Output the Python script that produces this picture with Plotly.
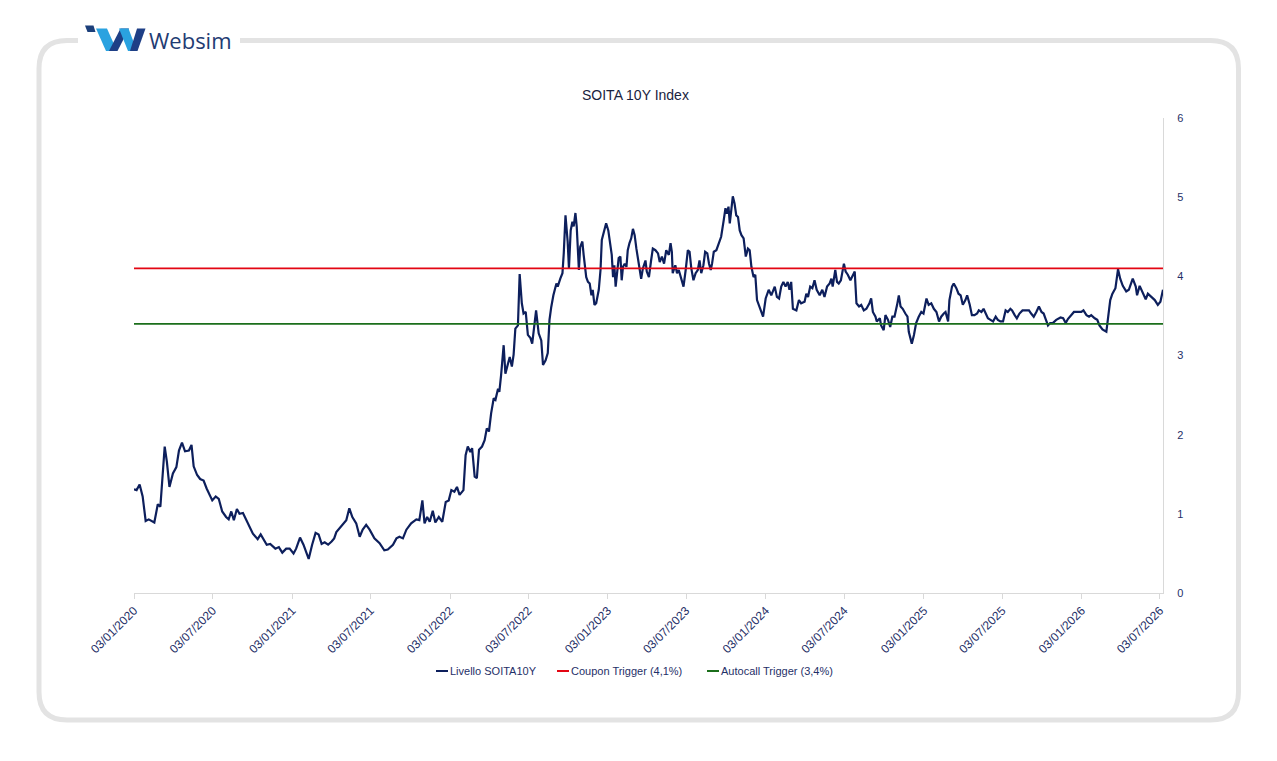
import plotly.graph_objects as go
import pandas as pd

# ---------------- data ----------------
START_DATE = "2020-01-03"

day_offsets = [
    0, 6, 13, 20, 27, 34, 47, 55, 61, 71,
    76, 82, 90, 98, 104, 111, 118, 127, 133, 138,
    146, 153, 161, 168, 181, 189, 196, 204, 213, 219,
    225, 231, 238, 244, 252, 263, 275, 286, 293, 307,
    315, 327, 335, 343, 352, 360, 369, 375, 384, 392,
    404, 412, 420, 427, 434, 441, 449, 457, 463, 468,
    483, 491, 498, 505, 514, 522, 529, 537, 545, 556,
    568, 579, 587, 599, 607, 614, 622, 630, 641, 653,
    660, 667, 672, 678, 684, 691, 697, 705, 713, 721,
    728, 734, 741, 747, 753,
    762, 767, 772, 778, 782, 788, 793, 798, 805, 811,
    816, 821, 826, 832, 836, 842, 845, 849, 853, 855,
    859, 865, 869, 874, 878, 882, 888, 892, 897, 901,
    906, 911, 917, 921, 925, 930, 936, 942, 946, 952,
    957, 961, 965, 970, 977, 980, 986, 991, 994, 998,
    1003, 1006, 1010, 1014, 1017, 1021, 1024, 1029, 1032, 1037,
    1040, 1046, 1050, 1054, 1058, 1061, 1065, 1069, 1075, 1079,
    1082, 1087, 1092, 1097, 1102, 1105, 1108, 1111, 1114, 1118,
    1121, 1125, 1128, 1131, 1135, 1139, 1142, 1146, 1150, 1154,
    1158, 1162, 1166, 1169, 1173, 1177, 1183, 1186, 1191, 1196,
    1200, 1206, 1212, 1216, 1221, 1226, 1231, 1237, 1241, 1244,
    1246, 1252, 1256, 1260, 1266, 1271, 1276, 1281, 1285, 1289,
    1294, 1299, 1304, 1308, 1312, 1317, 1321, 1326, 1330, 1334,
    1337, 1341, 1347, 1353, 1358, 1364, 1368, 1371, 1375, 1378,
    1381, 1385, 1389, 1393, 1397, 1401, 1405, 1410, 1415, 1420,
    1424, 1428, 1433, 1437, 1441, 1445, 1451, 1455,
    1461, 1468, 1474, 1482, 1487, 1492, 1497, 1502, 1507, 1512,
    1516, 1520, 1524, 1532, 1538, 1543, 1551, 1555, 1559, 1564,
    1569, 1574, 1579, 1586, 1592, 1597, 1603, 1609, 1613, 1616,
    1622, 1626, 1630, 1635, 1638, 1642, 1646, 1651, 1657, 1661,
    1667, 1671, 1677, 1682, 1688, 1694, 1701, 1705, 1709, 1715,
    1718, 1725, 1728, 1734, 1738, 1744, 1749, 1754, 1759, 1765,
    1769, 1773, 1778, 1784, 1789, 1792, 1799, 1804, 1809, 1815,
    1821, 1826, 1833, 1838, 1844, 1850, 1856, 1862, 1867, 1873,
    1877, 1883, 1886, 1892, 1896, 1902, 1907, 1912, 1917, 1923,
    1927, 1933, 1938, 1944, 1950, 1954, 1960, 1965, 1970, 1975,
    1981, 1987, 1993, 1998, 2004, 2010, 2016, 2021, 2027, 2031,
    2037, 2042, 2048, 2055, 2062, 2070, 2075, 2081, 2087, 2093,
    2099, 2104, 2108, 2114, 2119, 2125, 2133, 2143, 2149, 2155,
    2160, 2168, 2174, 2183, 2191, 2196, 2203, 2209, 2214, 2222,
    2228, 2233, 2240, 2249, 2253, 2258, 2263, 2270, 2276, 2281,
    2287, 2295, 2301, 2307, 2310, 2317, 2320, 2326, 2332, 2340,
    2345, 2353, 2361, 2368, 2374, 2380,
]

soita_values = [
    1.31, 1.30, 1.37, 1.22, 0.91, 0.93, 0.89, 1.12, 1.09, 1.85,
    1.66, 1.34, 1.51, 1.59, 1.80, 1.90, 1.79, 1.80, 1.87, 1.60,
    1.49, 1.44, 1.42, 1.32, 1.17, 1.22, 1.19, 1.03, 0.96, 0.93,
    1.03, 0.92, 1.06, 1.00, 1.01, 0.88, 0.75, 0.68, 0.74, 0.61,
    0.62, 0.56, 0.58, 0.51, 0.56, 0.56, 0.50, 0.56, 0.70, 0.61,
    0.43, 0.61, 0.76, 0.74, 0.62, 0.64, 0.61, 0.65, 0.69, 0.77,
    0.86, 0.92, 1.07, 0.96, 0.88, 0.71, 0.80, 0.86, 0.80, 0.69,
    0.63, 0.54, 0.55, 0.61, 0.69, 0.71, 0.69, 0.80, 0.88, 0.93,
    0.92, 1.17, 0.88, 0.96, 0.90, 1.04, 0.89, 0.96, 0.90, 1.15,
    1.17, 1.30, 1.28, 1.34, 1.24,
    1.30, 1.74, 1.85, 1.78, 1.83, 1.47, 1.45, 1.81, 1.85, 1.93,
    2.08, 2.04, 2.27, 2.46, 2.44, 2.58, 2.54, 2.75, 3.07, 3.13,
    2.77, 2.90, 2.98, 2.86, 3.01, 3.34, 3.38, 4.03, 3.66, 3.53,
    3.55, 3.26, 3.22, 3.15, 3.32, 3.57, 3.28, 3.19, 2.88, 2.94,
    3.03, 3.45, 3.61, 3.76, 3.91, 3.87, 3.97, 4.04, 4.29, 4.77,
    4.44, 4.10, 4.58, 4.69, 4.63, 4.80, 4.63, 4.08, 4.37, 4.44,
    4.27, 3.99, 3.93, 3.91, 3.76, 3.83, 3.64, 3.66, 3.83, 4.08,
    4.46, 4.58, 4.67, 4.58, 4.37, 4.27, 3.99, 4.14, 3.87, 4.12,
    4.23, 4.25, 3.95, 4.12, 4.16, 4.12, 4.33, 4.42, 4.48, 4.60,
    4.52, 4.35, 4.20, 4.08, 3.97, 4.10, 4.20, 4.06, 3.99, 4.20,
    4.35, 4.33, 4.29, 4.18, 4.25, 4.16, 4.33, 4.27, 4.42, 4.31,
    4.04, 4.14, 4.04, 4.08, 3.95, 3.87, 4.08, 4.33, 4.31, 4.10,
    3.95, 4.04, 4.08, 4.20, 4.04, 4.14, 4.31, 4.29, 4.16, 4.08,
    4.16, 4.31, 4.33, 4.44, 4.50, 4.71, 4.86, 4.79, 4.88, 4.67,
    4.81, 5.01, 4.92, 4.77, 4.75, 4.58, 4.52, 4.48, 4.25, 4.35,
    4.33, 4.12, 3.99, 4.02, 3.70, 3.64, 3.53, 3.49,
    3.72, 3.83, 3.76, 3.87, 3.74, 3.72, 3.87, 3.93, 3.87, 3.93,
    3.83, 3.93, 3.59, 3.57, 3.70, 3.66, 3.68, 3.78, 3.74, 3.87,
    3.85, 3.95, 3.83, 3.76, 3.83, 3.74, 3.87, 3.91, 3.97, 3.87,
    4.08, 3.93, 3.91, 3.95, 4.04, 4.16, 4.06, 4.02, 3.95, 3.99,
    4.06, 3.66, 3.62, 3.64, 3.57, 3.59, 3.66, 3.72, 3.55, 3.49,
    3.43, 3.47, 3.38, 3.32, 3.51, 3.45, 3.36, 3.49, 3.49, 3.64,
    3.76, 3.62, 3.59, 3.53, 3.49, 3.30, 3.15, 3.26, 3.41, 3.49,
    3.55, 3.53, 3.72, 3.64, 3.66, 3.59, 3.55, 3.43, 3.49, 3.53,
    3.55, 3.43, 3.70, 3.87, 3.91, 3.85, 3.78, 3.76, 3.64, 3.70,
    3.76, 3.64, 3.51, 3.51, 3.53, 3.57, 3.55, 3.59, 3.53, 3.47,
    3.45, 3.43, 3.49, 3.45, 3.43, 3.43, 3.57, 3.55, 3.59, 3.57,
    3.51, 3.47, 3.53, 3.57, 3.57, 3.57, 3.53, 3.49, 3.55, 3.62,
    3.55, 3.53, 3.47, 3.38, 3.41, 3.41, 3.45, 3.48, 3.47, 3.41,
    3.46, 3.51, 3.55, 3.55, 3.55, 3.57, 3.51, 3.49, 3.51, 3.47,
    3.45, 3.38, 3.33, 3.30, 3.45, 3.70, 3.78, 3.85, 4.09, 3.97,
    3.88, 3.81, 3.83, 3.91, 3.97, 3.87, 3.76, 3.88, 3.81, 3.71,
    3.78, 3.74, 3.70, 3.64, 3.68, 3.83,
]

coupon_trigger = 4.1
autocall_trigger = 3.4

series_names = ["Livello SOITA10Y", "Coupon Trigger (4,1%)", "Autocall Trigger (3,4%)"]

x_tick_labels = [
    "03/01/2020", "03/07/2020", "03/01/2021", "03/07/2021", "03/01/2022",
    "03/07/2022", "03/01/2023", "03/07/2023", "03/01/2024", "03/07/2024",
    "03/01/2025", "03/07/2025", "03/01/2026", "03/07/2026",
]
y_ticks = [0, 1, 2, 3, 4, 5, 6]

assert len(day_offsets) == len(soita_values)

# ---------------- build ----------------
dates = pd.to_datetime(START_DATE) + pd.to_timedelta(day_offsets, unit="D")
tick_dates = pd.to_datetime(x_tick_labels, format="%d/%m/%Y")

NAVY = "#0d1f5c"
RED = "#e30613"
GREEN = "#1b6e1b"
TXT = "#1f3068"
AXIS_GREY = "#d9d9d9"
FONT = "Liberation Sans, Arial, sans-serif"

W, H = 1277, 761
ML, MR, MT, MB = 134, 114, 118, 168
PW, PH = W - ML - MR, H - MT - MB


def px_x(px):
    return (px - ML) / PW


def px_y(py):
    return (H - MB - py) / PH


fig = go.Figure()
fig.add_trace(go.Scatter(x=dates, y=soita_values, mode="lines",
                         line=dict(color=NAVY, width=2.2), name=series_names[0]))
fig.add_trace(go.Scatter(x=[dates[0], dates[-1]], y=[coupon_trigger, coupon_trigger],
                         mode="lines", line=dict(color=RED, width=1.6), name=series_names[1]))
fig.add_trace(go.Scatter(x=[dates[0], dates[-1]], y=[autocall_trigger, autocall_trigger],
                         mode="lines", line=dict(color=GREEN, width=1.6), name=series_names[2]))

# ---------------- decoration ----------------
def rounded_rect_path(x0, y0, x1, y1, r):
    pts = [
        ("M", [(x0 + r, y0)]),
        ("L", [(x1 - r, y0)]),
        ("Q", [(x1, y0), (x1, y0 + r)]),
        ("L", [(x1, y1 - r)]),
        ("Q", [(x1, y1), (x1 - r, y1)]),
        ("L", [(x0 + r, y1)]),
        ("Q", [(x0, y1), (x0, y1 - r)]),
        ("L", [(x0, y0 + r)]),
        ("Q", [(x0, y0), (x0 + r, y0)]),
    ]
    s = ""
    for cmd, ps in pts:
        s += cmd + " " + " ".join(f"{px_x(a):.5f},{px_y(b):.5f}" for a, b in ps) + " "
    return s + "Z"


def poly_path(points):
    return "M " + " L ".join(f"{px_x(a):.5f},{px_y(b):.5f}" for a, b in points) + " Z"


shapes = [
    dict(type="path", xref="paper", yref="paper",
         path=rounded_rect_path(39, 40.5, 1238.5, 720, 28),
         line=dict(color="#e3e3e3", width=5), fillcolor="rgba(0,0,0,0)", layer="below"),
    dict(type="rect", xref="paper", yref="paper",
         x0=px_x(78), x1=px_x(240), y0=px_y(33), y1=px_y(48),
         line=dict(width=0), fillcolor="white", layer="below"),
    # logo mark
    dict(type="path", xref="paper", yref="paper",
         path=poly_path([(85, 25.5), (93.5, 25.5), (95.5, 32), (87.5, 32)]),
         line=dict(width=0), fillcolor="#1c3f7a"),
    dict(type="path", xref="paper", yref="paper",
         path=poly_path([(96, 28.5), (107, 28.5), (117, 51), (106, 51)]),
         line=dict(width=0), fillcolor="#2aa2e0"),
    dict(type="path", xref="paper", yref="paper",
         path=poly_path([(109, 51), (117.5, 51), (129, 28.5), (120.5, 28.5)]),
         line=dict(width=0), fillcolor="#1e3f86"),
    dict(type="path", xref="paper", yref="paper",
         path=poly_path([(119, 28.5), (128.5, 28.5), (137, 51), (128, 51)]),
         line=dict(width=0), fillcolor="#2aa2e0"),
    dict(type="path", xref="paper", yref="paper",
         path=poly_path([(130, 51), (137.5, 51), (145.5, 28.5), (137, 28.5)]),
         line=dict(width=0), fillcolor="#1e3f86"),
]

# legend (manual, Excel style)
legend_items = [(436, series_names[0], NAVY), (557, series_names[1], RED), (707, series_names[2], GREEN)]
annotations = []
for lx, name, col in legend_items:
    shapes.append(dict(type="line", xref="paper", yref="paper",
                       x0=px_x(lx), x1=px_x(lx + 12), y0=px_y(671), y1=px_y(671),
                       line=dict(color=col, width=2)))
    annotations.append(dict(xref="paper", yref="paper", x=px_x(lx + 12), y=px_y(671),
                            xanchor="left", yanchor="middle", showarrow=False,
                            text=name, font=dict(family=FONT, size=11, color=TXT)))

annotations.append(dict(xref="paper", yref="paper", x=px_x(635), y=px_y(95),
                        xanchor="center", yanchor="middle", showarrow=False,
                        text="SOITA 10Y Index", font=dict(family=FONT, size=14, color="#1a2340")))
annotations.append(dict(xref="paper", yref="paper", x=px_x(147), y=px_y(40),
                        xanchor="left", yanchor="middle", showarrow=False,
                        text="Websim", font=dict(family="Open Sans, sans-serif", size=22, color="#1f3c73")))

fig.update_layout(
    width=W, height=H,
    margin=dict(l=ML, r=MR, t=MT, b=MB, autoexpand=False),
    paper_bgcolor="white", plot_bgcolor="white",
    showlegend=False,
    shapes=shapes, annotations=annotations,
    xaxis=dict(
        type="date", range=[dates[0], dates[-1]],
        tickmode="array", tickvals=tick_dates, ticktext=x_tick_labels,
        tickangle=-45, tickfont=dict(family=FONT, size=12, color=TXT),
        showline=True, linecolor=AXIS_GREY, linewidth=1,
        ticks="outside", ticklen=5, tickcolor=AXIS_GREY,
        showgrid=False, zeroline=False,
    ),
    yaxis=dict(
        side="right", range=[0, 6], tickmode="array", tickvals=y_ticks,
        tickfont=dict(family=FONT, size=11, color=TXT),
        showline=True, linecolor=AXIS_GREY, linewidth=1,
        ticks="", ticklabelstandoff=11,
        showgrid=False, zeroline=False,
    ),
)

fig.write_html("out.html")
